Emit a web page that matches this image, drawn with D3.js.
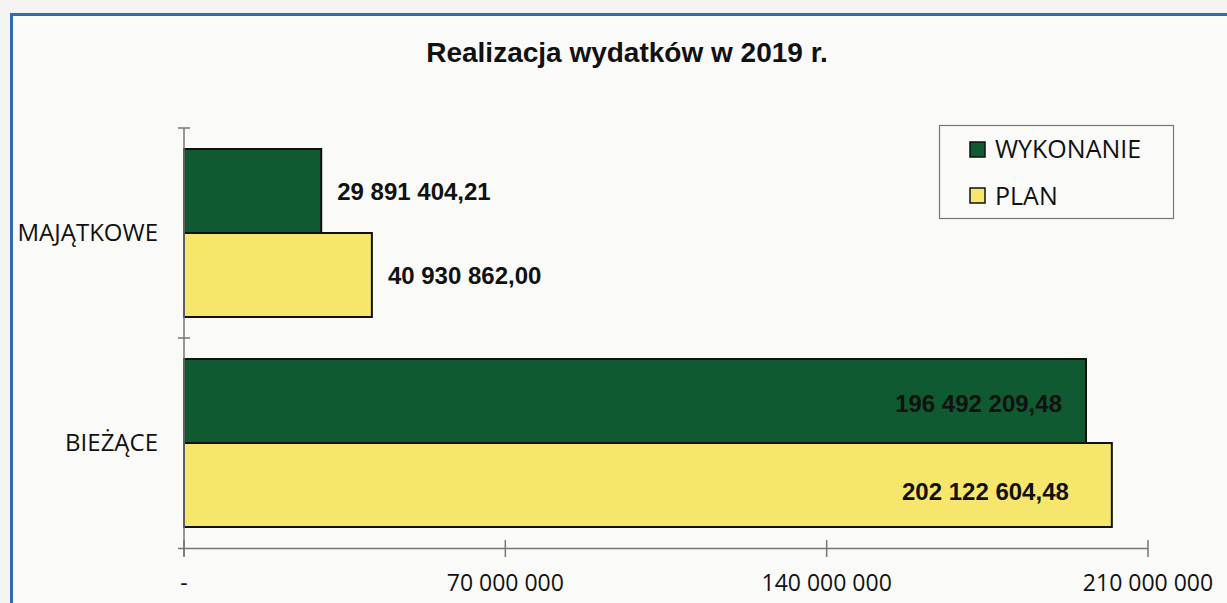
<!DOCTYPE html>
<meta charset="utf-8">
<script src="https://cdnjs.cloudflare.com/ajax/libs/d3/7.8.5/d3.min.js"></script>
<style>
body { margin: 0; background: #f4f4f3; }
svg { display: block; }
.cat { font-family: "Open Sans", sans-serif; font-size: 24px; fill: #111; }
.tick-lab { font-family: "Open Sans", sans-serif; font-size: 23px; fill: #111; }
.val { font-family: "Liberation Sans", Arial, sans-serif; font-weight: bold; font-size: 24px; fill: #111; }
.title { font-family: "Liberation Sans", Arial, sans-serif; font-weight: bold; font-size: 28px; fill: #111; }
.leg { font-family: "Open Sans", sans-serif; font-size: 25px; fill: #111; }
</style>
<body>
<script>

// Chart data.
var categories = ["MAJĄTKOWE", "BIEŻĄCE"];
var series = ["WYKONANIE", "PLAN"];
var wykonanie = [29891404.21, 196492209.48];
var plan = [40930862.00, 202122604.48];
var valueLabels = [["29 891 404,21", "196 492 209,48"], ["40 930 862,00", "202 122 604,48"]];
var ticks = [0, 70000000, 140000000, 210000000];
var tickLabels = ["-", "70 000 000", "140 000 000", "210 000 000"];
var colors = ["#0f5a30", "#f6e66c"];

var width = 1227,
    height = 603;

// inside labels sit a bit differently per series
var insideOffset = [24, 43],
    insideDy = [11, 15];

var svg = d3.select("body").append("svg")
    .attr("width", width)
    .attr("height", height);

// Frame.
svg.append("rect")
    .attr("x", 11.5).attr("y", 14.5)
    .attr("width", width + 20).attr("height", height + 20)
    .attr("fill", "#fafaf9")
    .attr("stroke", "#2f6cb0")
    .attr("stroke-width", 3);

svg.append("text")
    .attr("class", "title")
    .attr("x", 627).attr("y", 62)
    .attr("text-anchor", "middle")
    .text("Realizacja wydatków w 2019 r.");

var x = d3.scaleLinear()
    .domain([0, 210000000])
    .range([184, 1148]);

var y = d3.scaleBand()
    .domain(categories)
    .range([128, 548])
    .paddingInner(0.2)
    .paddingOuter(0.1);

var y1 = d3.scaleBand()
    .domain(series)
    .range([0, y.bandwidth()]);

var rows = [wykonanie, plan];

// Bars.
series.forEach(function(s, si) {
  svg.append("g").selectAll("rect")
      .data(rows[si])
    .enter().append("rect")
      .attr("x", x(0))
      .attr("y", function(d, i) { return y(categories[i]) + y1(s); })
      .attr("width", function(d) { return x(d) - x(0); })
      .attr("height", y1.bandwidth())
      .attr("fill", colors[si])
      .attr("stroke", "#111")
      .attr("stroke-width", 2);

  svg.append("g").selectAll("text")
      .data(rows[si])
    .enter().append("text")
      .attr("class", "val")
      .attr("x", function(d) { return d > 100000000 ? x(d) - insideOffset[si] : x(d) + 16; })
      .attr("y", function(d, i) {
        var dy = d > 100000000 ? insideDy[si] : 9;
        return y(categories[i]) + y1(s) + y1.bandwidth() / 2 + dy;
      })
      .attr("text-anchor", function(d) { return d > 100000000 ? "end" : "start"; })
      .text(function(d, i) { return valueLabels[si][i]; });
});

// Value axis.
var xAxis = svg.append("g");
xAxis.append("line")
    .attr("x1", 178).attr("x2", 1148)
    .attr("y1", 548.5).attr("y2", 548.5)
    .attr("stroke", "#777").attr("stroke-width", 1.5);
xAxis.selectAll(".t")
    .data(ticks)
  .enter().append("line")
    .attr("x1", function(d) { return x(d); }).attr("x2", function(d) { return x(d); })
    .attr("y1", 540).attr("y2", 557)
    .attr("stroke", "#777").attr("stroke-width", 1.5);
xAxis.selectAll("text")
    .data(ticks)
  .enter().append("text")
    .attr("class", "tick-lab")
    .attr("x", function(d) { return x(d); })
    .attr("y", 591)
    .attr("text-anchor", "middle")
    .text(function(d, i) { return tickLabels[i]; });

// Category axis.
var yAxis = svg.append("g");
yAxis.append("line")
    .attr("x1", x(0)).attr("x2", x(0))
    .attr("y1", 128).attr("y2", 556)
    .attr("stroke", "#777").attr("stroke-width", 1.5);
yAxis.selectAll(".t")
    .data([128, 338])
  .enter().append("line")
    .attr("x1", 178).attr("x2", 190)
    .attr("y1", function(d) { return d; }).attr("y2", function(d) { return d; })
    .attr("stroke", "#777").attr("stroke-width", 1.5);
yAxis.selectAll("text")
    .data(categories)
  .enter().append("text")
    .attr("class", "cat")
    .attr("x", 158)
    .attr("y", function(d) { return y(d) + y.bandwidth() / 2 + 8; })
    .attr("text-anchor", "end")
    .text(function(d) { return d; });

// Legend.
var leg = svg.append("g");
leg.append("rect")
    .attr("x", 939.5).attr("y", 125.5)
    .attr("width", 234).attr("height", 93)
    .attr("fill", "#fafaf9")
    .attr("stroke", "#777").attr("stroke-width", 1.2);
series.forEach(function(s, i) {
  leg.append("rect")
      .attr("x", 970).attr("y", 142 + i * 46)
      .attr("width", 15).attr("height", 15)
      .attr("fill", colors[i])
      .attr("stroke", "#111").attr("stroke-width", 1.5);
  leg.append("text")
      .attr("class", "leg")
      .attr("x", 995).attr("y", 158 + i * 47)
      .text(s);
});

</script>
